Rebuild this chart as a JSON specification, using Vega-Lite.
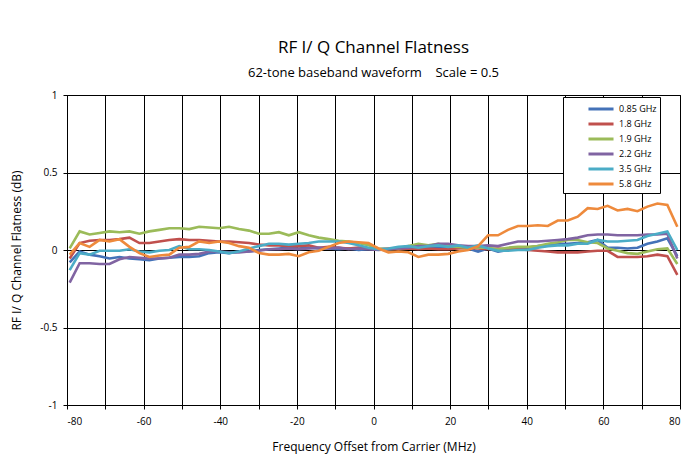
{
  "$schema": "https://vega.github.io/schema/vega-lite/v6.json",
  "width": 613,
  "height": 310,
  "autosize": {"type": "none"},
  "padding": {"left": 67, "top": 95, "right": 16, "bottom": 62},
  "background": "white",
  "title": {
    "text": "RF I/ Q Channel Flatness",
    "subtitle": "62-tone baseband waveform\u00a0\u00a0\u00a0\u00a0Scale = 0.5",
    "anchor": "middle",
    "frame": "group",
    "offset": 9,
    "font": "Open Sans",
    "fontSize": 17,
    "fontWeight": "normal",
    "color": "#000",
    "subtitleFont": "Open Sans",
    "subtitleFontSize": 13,
    "subtitleColor": "#000",
    "subtitlePadding": 10
  },
  "data": {
    "values": [
      {"x": -79.3, "a": -0.08, "b": -0.055, "c": 0.01, "d": -0.21, "e": -0.13, "f": -0.03},
      {"x": -76.7, "a": -0.01, "b": 0.045, "c": 0.12, "d": -0.085, "e": -0.02, "f": 0.045},
      {"x": -74.1, "a": -0.03, "b": 0.06, "c": 0.10, "d": -0.085, "e": -0.03, "f": 0.02},
      {"x": -71.5, "a": -0.04, "b": 0.065, "c": 0.11, "d": -0.09, "e": -0.005, "f": 0.065},
      {"x": -68.9, "a": -0.055, "b": 0.065, "c": 0.12, "d": -0.09, "e": -0.005, "f": 0.055},
      {"x": -66.3, "a": -0.045, "b": 0.07, "c": 0.115, "d": -0.06, "e": -0.005, "f": 0.07},
      {"x": -63.7, "a": -0.055, "b": 0.08, "c": 0.12, "d": -0.045, "e": 0.005, "f": 0.02},
      {"x": -61.1, "a": -0.06, "b": 0.045, "c": 0.105, "d": -0.05, "e": -0.01, "f": -0.02},
      {"x": -58.5, "a": -0.065, "b": 0.045, "c": 0.12, "d": -0.055, "e": -0.015, "f": -0.045},
      {"x": -55.9, "a": -0.055, "b": 0.055, "c": 0.13, "d": -0.055, "e": -0.005, "f": -0.035},
      {"x": -53.3, "a": -0.05, "b": 0.065, "c": 0.14, "d": -0.05, "e": 0.0, "f": -0.03},
      {"x": -50.7, "a": -0.045, "b": 0.07, "c": 0.14, "d": -0.03, "e": 0.025, "f": 0.015},
      {"x": -48.1, "a": -0.045, "b": 0.065, "c": 0.135, "d": -0.03, "e": 0.005, "f": 0.02},
      {"x": -45.5, "a": -0.04, "b": 0.065, "c": 0.15, "d": -0.025, "e": 0.005, "f": 0.055},
      {"x": -42.9, "a": -0.02, "b": 0.06, "c": 0.145, "d": -0.01, "e": 0.0, "f": 0.045},
      {"x": -40.3, "a": -0.015, "b": 0.055, "c": 0.14, "d": -0.01, "e": -0.01, "f": 0.055},
      {"x": -37.7, "a": -0.02, "b": 0.055, "c": 0.15, "d": -0.015, "e": -0.02, "f": 0.045},
      {"x": -35.1, "a": -0.01, "b": 0.05, "c": 0.135, "d": -0.015, "e": -0.01, "f": 0.025},
      {"x": -32.5, "a": -0.01, "b": 0.045, "c": 0.125, "d": -0.01, "e": 0.01, "f": 0.015},
      {"x": -29.9, "a": 0.0, "b": 0.035, "c": 0.105, "d": -0.005, "e": 0.025, "f": -0.02},
      {"x": -27.3, "a": 0.005, "b": 0.03, "c": 0.105, "d": 0.005, "e": 0.04, "f": -0.03},
      {"x": -24.7, "a": 0.01, "b": 0.03, "c": 0.115, "d": 0.005, "e": 0.04, "f": -0.03},
      {"x": -22.1, "a": 0.015, "b": 0.025, "c": 0.095, "d": 0.01, "e": 0.035, "f": -0.025},
      {"x": -19.5, "a": 0.01, "b": 0.025, "c": 0.115, "d": 0.005, "e": 0.04, "f": -0.04},
      {"x": -16.9, "a": 0.015, "b": 0.03, "c": 0.095, "d": 0.01, "e": 0.045, "f": -0.015},
      {"x": -14.3, "a": 0.01, "b": 0.015, "c": 0.08, "d": 0.015, "e": 0.055, "f": -0.005},
      {"x": -11.7, "a": 0.01, "b": 0.02, "c": 0.07, "d": 0.01, "e": 0.055, "f": 0.02},
      {"x": -9.1, "a": 0.005, "b": 0.015, "c": 0.06, "d": 0.015, "e": 0.055, "f": 0.045},
      {"x": -6.5, "a": 0.01, "b": 0.01, "c": 0.055, "d": 0.005, "e": 0.045, "f": 0.055},
      {"x": -3.9, "a": 0.0, "b": 0.015, "c": 0.045, "d": 0.01, "e": 0.03, "f": 0.05},
      {"x": -1.3, "a": 0.005, "b": 0.01, "c": 0.03, "d": 0.005, "e": 0.015, "f": 0.045},
      {"x": 1.3, "a": 0.005, "b": 0.005, "c": 0.01, "d": 0.0, "e": 0.005, "f": 0.01},
      {"x": 3.9, "a": 0.005, "b": 0.01, "c": 0.005, "d": 0.005, "e": 0.01, "f": -0.015},
      {"x": 6.5, "a": 0.01, "b": 0.005, "c": 0.01, "d": 0.01, "e": 0.02, "f": -0.01},
      {"x": 9.1, "a": 0.015, "b": 0.01, "c": 0.025, "d": 0.015, "e": 0.025, "f": -0.015},
      {"x": 11.7, "a": 0.025, "b": 0.005, "c": 0.04, "d": 0.025, "e": 0.015, "f": -0.045},
      {"x": 14.3, "a": 0.015, "b": 0.01, "c": 0.03, "d": 0.025, "e": 0.025, "f": -0.03},
      {"x": 16.9, "a": 0.02, "b": 0.005, "c": 0.04, "d": 0.04, "e": 0.03, "f": -0.03},
      {"x": 19.5, "a": 0.015, "b": 0.005, "c": 0.025, "d": 0.04, "e": 0.02, "f": -0.025},
      {"x": 22.1, "a": 0.015, "b": 0.01, "c": 0.02, "d": 0.03, "e": 0.03, "f": -0.01},
      {"x": 24.7, "a": 0.01, "b": 0.015, "c": 0.015, "d": 0.025, "e": 0.015, "f": 0.0},
      {"x": 27.3, "a": -0.01, "b": 0.01, "c": 0.015, "d": 0.025, "e": 0.03, "f": 0.025},
      {"x": 29.9, "a": 0.01, "b": 0.005, "c": 0.015, "d": 0.03, "e": 0.01, "f": 0.095},
      {"x": 32.5, "a": -0.01, "b": 0.01, "c": 0.005, "d": 0.025, "e": -0.005, "f": 0.095},
      {"x": 35.1, "a": 0.0, "b": 0.005, "c": 0.015, "d": 0.04, "e": -0.005, "f": 0.13},
      {"x": 37.7, "a": 0.01, "b": 0.005, "c": 0.02, "d": 0.055, "e": 0.0, "f": 0.155},
      {"x": 40.3, "a": 0.015, "b": 0.0, "c": 0.02, "d": 0.055, "e": 0.0, "f": 0.155},
      {"x": 42.9, "a": 0.025, "b": -0.005, "c": 0.025, "d": 0.055, "e": 0.015, "f": 0.16},
      {"x": 45.5, "a": 0.03, "b": -0.01, "c": 0.04, "d": 0.06, "e": 0.025, "f": 0.155},
      {"x": 48.1, "a": 0.04, "b": -0.015, "c": 0.05, "d": 0.065, "e": 0.03, "f": 0.19},
      {"x": 50.7, "a": 0.04, "b": -0.015, "c": 0.065, "d": 0.07, "e": 0.03, "f": 0.19},
      {"x": 53.3, "a": 0.045, "b": -0.015, "c": 0.065, "d": 0.08, "e": 0.04, "f": 0.215},
      {"x": 55.9, "a": 0.05, "b": -0.01, "c": 0.05, "d": 0.095, "e": 0.04, "f": 0.27},
      {"x": 58.5, "a": 0.065, "b": -0.005, "c": 0.045, "d": 0.1, "e": 0.065, "f": 0.265},
      {"x": 61.1, "a": 0.015, "b": -0.005, "c": 0.01, "d": 0.1, "e": 0.055, "f": 0.285},
      {"x": 63.7, "a": 0.015, "b": -0.045, "c": -0.005, "d": 0.095, "e": 0.055, "f": 0.255},
      {"x": 66.3, "a": 0.01, "b": -0.045, "c": -0.02, "d": 0.095, "e": 0.06, "f": 0.265},
      {"x": 68.9, "a": 0.015, "b": -0.045, "c": -0.025, "d": 0.095, "e": 0.065, "f": 0.25},
      {"x": 71.5, "a": 0.04, "b": -0.04, "c": -0.01, "d": 0.1, "e": 0.09, "f": 0.28},
      {"x": 74.1, "a": 0.055, "b": -0.03, "c": 0.005, "d": 0.1, "e": 0.105, "f": 0.30},
      {"x": 76.7, "a": 0.075, "b": -0.04, "c": 0.01, "d": 0.105, "e": 0.12, "f": 0.29},
      {"x": 79.3, "a": -0.04, "b": -0.16, "c": -0.09, "d": -0.055, "e": 0.0, "f": 0.15}
    ]
  },
  "transform": [{"fold": ["a", "b", "c", "d", "e", "f"], "as": ["series", "value"]}],
  "mark": {"type": "line", "strokeWidth": 2.6, "clip": true},
  "encoding": {
    "x": {
      "field": "x",
      "type": "quantitative",
      "scale": {"domain": [-80, 80], "nice": false, "zero": false},
      "axis": {
        "values": [-80, -70, -60, -50, -40, -30, -20, -10, 0, 10, 20, 30, 40, 50, 60, 70, 80],
        "labelExpr": "datum.value % 20 == 0 ? '' + datum.value : ''",
        "title": "Frequency Offset from Carrier (MHz)",
        "grid": true,
        "gridColor": "#000",
        "gridOpacity": 1,
        "gridWidth": 1,
        "domainColor": "#000",
        "tickColor": "#000",
        "tickSize": 4,
        "labelFont": "Open Sans",
        "labelFontSize": 10,
        "labelColor": "#000",
        "labelPadding": 7,
        "titleFont": "Open Sans",
        "titleFontSize": 12,
        "titleFontWeight": "normal",
        "titleColor": "#000",
        "titlePadding": 15
      }
    },
    "y": {
      "field": "value",
      "type": "quantitative",
      "scale": {"domain": [-1, 1], "nice": false, "zero": false},
      "axis": {
        "values": [-1, -0.5, 0, 0.5, 1],
        "labelExpr": "'' + datum.value",
        "title": "RF I/ Q Channel Flatness (dB)",
        "grid": true,
        "gridColor": "#000",
        "gridOpacity": 1,
        "gridWidth": 1,
        "domainColor": "#000",
        "tickColor": "#000",
        "tickSize": 4,
        "labelFont": "Open Sans",
        "labelFontSize": 10,
        "labelColor": "#000",
        "labelPadding": 6,
        "titleFont": "Open Sans",
        "titleFontSize": 12,
        "titleFontWeight": "normal",
        "titleColor": "#000",
        "titlePadding": 16
      }
    },
    "color": {
      "field": "series",
      "type": "nominal",
      "scale": {
        "domain": ["a", "b", "c", "d", "e", "f"],
        "range": ["#4472B8", "#C0504D", "#9BBB59", "#8064A2", "#4BACC6", "#EE8A3C"]
      },
      "legend": {
        "title": null,
        "orient": "none",
        "legendX": 496,
        "legendY": 2,
        "strokeColor": "#000",
        "fillColor": "#fff",
        "padding": 3,
        "symbolOffset": 26,
        "symbolType": "M-1.67,0H1.67",
        "symbolStrokeWidth": 3,
        "symbolSize": 225,
        "rowPadding": 0,
        "labelOffset": 9,
        "labelFont": "Open Sans",
        "labelFontSize": 9,
        "labelColor": "#000",
        "labelExpr": "(datum.value == 'a' ? '0.85 GHz' : datum.value == 'b' ? '1.8 GHz' : datum.value == 'c' ? '1.9 GHz' : datum.value == 'd' ? '2.2 GHz' : datum.value == 'e' ? '3.5 GHz' : '5.8 GHz') + '\u00a0\u00a0\u00a0\u00a0\u00a0\u00a0\u00a0\u00a0\u00a0\u00a0\u00a0\u00a0\u00a0\u00a0\u00a0\u00a0'"
      }
    }
  },
  "config": {"view": {"stroke": "#000", "strokeWidth": 1}}
}
